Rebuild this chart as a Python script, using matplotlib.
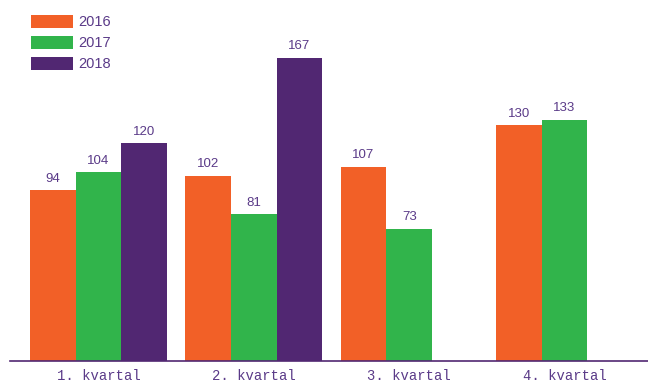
import numpy as np
import matplotlib
matplotlib.use("Agg")
import matplotlib.pyplot as plt

quarters = ["1. kvartal", "2. kvartal", "3. kvartal", "4. kvartal"]
years = ["2016", "2017", "2018"]
v2016 = [94, 102, 107, 130]
v2017 = [104, 81, 73, 133]
v2018 = [120, 167, None, None]

colors = ["#F26027", "#31B44B", "#512772"]
text_col = "#5a3a88"

fig = plt.figure(figsize=(6.48, 3.85), dpi=100)
ax = fig.add_axes([0.0154, 0.0623, 0.9846, 0.9377])

x = np.arange(len(quarters))
w = 0.294
handles = []
for k, (vals, col, lab) in enumerate(zip([v2016, v2017, v2018], colors, years)):
    xs = [xi + (k - 1) * w for xi, v in zip(x, vals) if v is not None]
    hs = [v for v in vals if v is not None]
    bars = ax.bar(xs, hs, width=w, color=col, label=lab, linewidth=0)
    ax.bar_label(bars, padding=4, fontsize=9.5, color=text_col, family="Liberation Sans")
    handles.append(bars)

ax.set_xlim(-0.570, 3.537)
ax.set_ylim(0, 199)
ax.set_xticks(x)
ax.set_xticklabels(quarters, family="Liberation Mono", fontsize=10, color=text_col)
ax.tick_params(axis="x", length=0, pad=6)
ax.set_yticks([])
for s in ["top", "right", "left"]:
    ax.spines[s].set_visible(False)
ax.spines["bottom"].set_color("#512772")
ax.spines["bottom"].set_linewidth(1.2)

leg = ax.legend(handles=handles, loc="upper left", bbox_to_anchor=(0.01, 1.0),
                frameon=False, fontsize=10.5, handlelength=2.9, handleheight=1.0,
                labelspacing=0.45, handletextpad=0.35, borderaxespad=0.6)
for t in leg.get_texts():
    t.set_color(text_col)
    t.set_family("Liberation Sans")

fig.savefig("out.png", dpi=100)
